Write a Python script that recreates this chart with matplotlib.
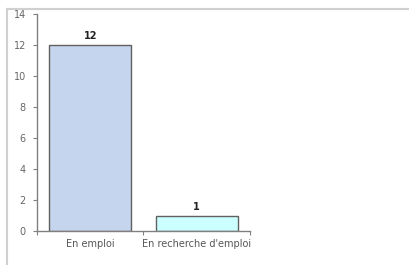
import matplotlib
matplotlib.use("Agg")
import matplotlib.pyplot as plt
from matplotlib.lines import Line2D

categories = ["En emploi", "En recherche d'emploi"]
values = [12, 1]
colors = ["#c5d5ee", "#ccffff"]
yticks = [0, 2, 4, 6, 8, 10, 12, 14]

fig = plt.figure(figsize=(4.1, 2.65), dpi=100)
fig.patch.set_facecolor("white")
fx, fy = 7.5/410, 1 - 8.5/265
fig.lines.append(Line2D([fx, 1.05], [fy, fy], transform=fig.transFigure,
                        color="#d0d0d0", linewidth=1.5, zorder=0))
fig.lines.append(Line2D([fx, fx], [-0.05, fy], transform=fig.transFigure,
                        color="#d0d0d0", linewidth=1.5, zorder=0))
ax = fig.add_axes([37/410, 1 - 231/265, (250 - 37)/410, (231 - 14)/265])
x = list(range(len(categories)))
bars = ax.bar(x, values, width=0.77, color=colors, edgecolor="#606060", linewidth=1.0)
for b, v in zip(bars, values):
    ax.text(b.get_x() + b.get_width()/2, v + 0.25, str(v), ha="center", va="bottom",
            fontsize=7, fontweight="bold", color="#222222")
ax.set_xlim(-0.5, len(categories) - 0.5)
ax.set_ylim(0, 14)
ax.set_yticks(yticks)
ax.set_yticklabels([str(t) for t in yticks], fontsize=7, color="#666666")
ax.set_xticks([-0.5, 0.5, 1.5])
ax.set_xticklabels([])
ax.set_xticks(x, minor=True)
ax.set_xticklabels(categories, minor=True, fontsize=7, color="#555555")
ax.tick_params(axis="x", which="minor", length=0, pad=6)
ax.tick_params(axis="x", which="major", length=3, color="#808080", direction="out")
ax.tick_params(axis="y", length=3, color="#808080", direction="out", pad=5)
for s in ["top", "right"]:
    ax.spines[s].set_visible(False)
for s in ["left", "bottom"]:
    ax.spines[s].set_color("#808080")
    ax.spines[s].set_linewidth(1.0)
fig.savefig("out.png", dpi=100)
